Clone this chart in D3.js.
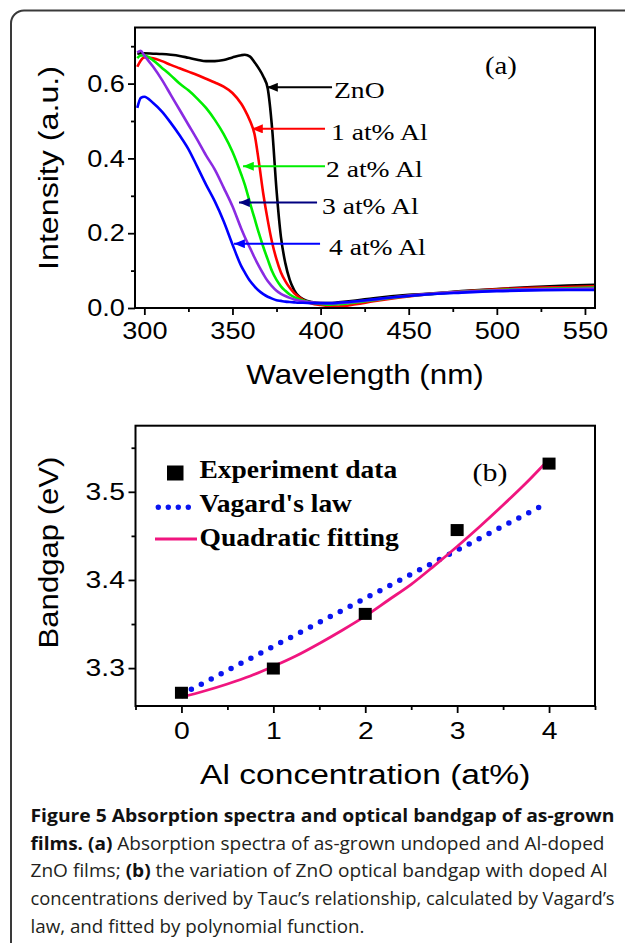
<!DOCTYPE html>
<html><head><meta charset="utf-8">
<script src="https://cdn.jsdelivr.net/npm/d3@7/dist/d3.min.js"></script>
<style>body{margin:0;background:#fff}svg{display:block}</style>
</head><body>
<svg id="c" width="625" height="943"></svg>
<script>
// ---------- DATA: panel (a) absorption spectra ----------
const wavelengths = [296,298,300,305,310,315,320,325,330,335,340,345,350,355,357,360,362.5,365,367.5,370,372.5,375,377.5,380,382.5,385,387.5,390,395,400,405,410,420,430,440,450,460,480,500,520,540,556];
const absZnO = [0.680,0.681,0.681,0.680,0.679,0.677,0.674,0.669,0.664,0.660,0.660,0.663,0.670,0.676,0.677,0.672,0.657,0.640,0.619,0.587,0.480,0.315,0.190,0.120,0.075,0.048,0.032,0.024,0.016,0.013,0.013,0.015,0.020,0.026,0.031,0.035,0.038,0.045,0.051,0.056,0.060,0.062];
const absAl1 = [0.645,0.662,0.670,0.668,0.660,0.650,0.641,0.632,0.623,0.613,0.603,0.592,0.575,0.546,0.530,0.500,0.465,0.390,0.305,0.235,0.175,0.130,0.095,0.072,0.054,0.040,0.030,0.022,0.012,0.008,0.005,0.004,0.010,0.018,0.025,0.031,0.036,0.044,0.050,0.054,0.056,0.058];
const absAl2 = [0.668,0.675,0.675,0.662,0.642,0.622,0.600,0.582,0.560,0.535,0.503,0.465,0.418,0.357,0.330,0.280,0.240,0.200,0.163,0.130,0.098,0.075,0.058,0.046,0.036,0.029,0.024,0.020,0.014,0.011,0.009,0.010,0.015,0.021,0.027,0.032,0.036,0.043,0.048,0.051,0.053,0.055];
const absAl3 = [0.683,0.688,0.675,0.645,0.610,0.570,0.530,0.490,0.450,0.408,0.370,0.322,0.272,0.212,0.190,0.160,0.135,0.112,0.091,0.072,0.058,0.046,0.038,0.032,0.027,0.023,0.020,0.018,0.015,0.013,0.012,0.013,0.017,0.022,0.028,0.033,0.037,0.043,0.047,0.050,0.051,0.052];
const absAl4 = [0.535,0.562,0.565,0.548,0.525,0.495,0.462,0.425,0.378,0.330,0.285,0.232,0.170,0.112,0.095,0.072,0.058,0.046,0.037,0.030,0.025,0.021,0.019,0.017,0.016,0.015,0.014,0.014,0.013,0.013,0.013,0.014,0.018,0.023,0.028,0.032,0.036,0.041,0.045,0.047,0.048,0.048];
const seriesNames = ["ZnO","1 at% Al","2 at% Al","3 at% Al","4 at% Al"];
const xTicksA = [300,350,400,450,500,550];
const xMinorA = [325,375,425,475,525];
const yTicksA = [0.0,0.2,0.4,0.6];
const yMinorA = [0.1,0.3,0.5,0.7];

// ---------- DATA: panel (b) bandgap ----------
const alConc = [0,1,2,3,4];
const bandgapExp = [3.272,3.2995,3.3615,3.4566,3.532];
const vegardX = [0,3.92];
const vegardY = [3.270,3.484];
const fitX = [0,0.25,0.5,0.75,1,1.25,1.5,1.75,2,2.25,2.5,2.75,3,3.25,3.5,3.75,4];
const fitY = [3.267,3.274,3.282,3.291,3.302,3.314,3.328,3.343,3.359,3.377,3.395,3.416,3.438,3.461,3.485,3.510,3.537];
const legendB = ["Experiment data","Vagard's law","Quadratic fitting"];
const xTicksB = [0,1,2,3,4];
const xMinorB = [-0.5,0.5,1.5,2.5,3.5,4.5];
const yTicksB = [3.3,3.4,3.5];
const yMinorB = [3.35,3.45,3.55];

// ---------- caption ----------
const captionLines = [
  [["Figure 5 Absorption spectra and optical bandgap of as-grown", true]],
  [["films. ", true],["(a)", true],[" Absorption spectra of as-grown undoped and Al-doped", false]],
  [["ZnO films; ", false],["(b)", true],[" the variation of ZnO optical bandgap with doped Al", false]],
  [["concentrations derived by Tauc\u2019s relationship, calculated by Vagard\u2019s", false]],
  [["law, and fitted by polynomial function.", false]]
];

// ================= drawing =================
const svg = d3.select("#c");
const SANS = "'Liberation Sans', Arial, sans-serif";
const SERIF = "'Liberation Serif', 'Times New Roman', serif";
const SX = 1.13;   // horizontal stretch of the original figure text

// outer rounded border
svg.append("rect").attr("x",11).attr("y",10.5).attr("width",800).attr("height",1000)
  .attr("rx",13).attr("fill","none").attr("stroke","#3a3a3a").attr("stroke-width",2);

function stext(g, x, y, txt, o) {
  o = o || {};
  return g.append("text")
    .attr("transform", `translate(${x},${y})` + (o.rotate ? ` rotate(${o.rotate})` : "") + ` scale(${o.sx || 1},1)`)
    .attr("font-family", o.family || SANS)
    .attr("font-size", o.size || 24)
    .attr("font-weight", o.weight || "normal")
    .attr("text-anchor", o.anchor || "start")
    .attr("fill", o.fill || "#000")
    .text(txt);
}

function drawAxes(g, x, y, box, xt, xm, yt, ym, xfmt, yfmt, xpad, sxTicks) {
  const gx = g.append("g").attr("transform", `translate(0,${box.bottom})`)
    .call(d3.axisBottom(x).tickValues(xt).tickSize(7).tickSizeOuter(0).tickPadding(xpad).tickFormat(xfmt));
  const gxm = g.append("g").attr("transform", `translate(0,${box.bottom})`)
    .call(d3.axisBottom(x).tickValues(xm).tickSize(4).tickSizeOuter(0).tickFormat(""));
  const gy = g.append("g").attr("transform", `translate(${box.left},0)`)
    .call(d3.axisLeft(y).tickValues(yt).tickSize(7).tickSizeOuter(0).tickPadding(2).tickFormat(yfmt));
  const gym = g.append("g").attr("transform", `translate(${box.left},0)`)
    .call(d3.axisLeft(y).tickValues(ym).tickSize(4).tickSizeOuter(0).tickFormat(""));
  [gx,gxm,gy,gym].forEach(a => {
    a.select(".domain").remove();
    a.selectAll("line").attr("stroke","#000").attr("stroke-width",1.8);
    a.attr("font-family", SANS).attr("font-size", 24);
    a.selectAll("text").attr("fill","#000").attr("transform", `scale(${sxTicks},1)`);
  });
  g.append("rect").attr("x",box.left).attr("y",box.top)
    .attr("width",box.right-box.left).attr("height",box.bottom-box.top)
    .attr("fill","none").attr("stroke","#000").attr("stroke-width",2);
}

// ---------- panel (a) ----------
const A = {left:135, right:595, top:27.5, bottom:308};
const xA = d3.scaleLinear().domain([294.7,555.7]).range([A.left,A.right]);
const yA = d3.scaleLinear().domain([0,0.75]).range([A.bottom,A.top]);
const gA = svg.append("g");
svg.append("clipPath").attr("id","clipA").append("rect")
  .attr("x",A.left).attr("y",A.top).attr("width",A.right-A.left).attr("height",A.bottom-A.top);

const seriesA = [absZnO, absAl1, absAl2, absAl3, absAl4];
const curveColors = ["#000000","#ff0000","#00ee00","#8a2be2","#0000ff"];
const arrowColors = ["#000000","#ff0000","#00ee00","#000080","#0000ff"];
const lineA = d3.line().x((d,i)=>xA(wavelengths[i])).y(d=>yA(d)).curve(d3.curveMonotoneX);
gA.append("g").attr("clip-path","url(#clipA)").selectAll("path").data(seriesA).join("path")
  .attr("d", lineA).attr("fill","none").attr("stroke",(d,i)=>curveColors[i])
  .attr("stroke-width",2.6).attr("stroke-linejoin","round");

drawAxes(gA, xA, yA, A, xTicksA, xMinorA, yTicksA, yMinorA, d3.format("d"), d3.format(".1f"), 7, SX);

// arrows (tip in data coords, tail wavelength) + labels
const arrowSpec = [
  {tip:[369.6,0.590], tail:406.5, lx:334},
  {tip:[361.1,0.479], tail:402.5, lx:331},
  {tip:[356.0,0.379], tail:402.5, lx:326},
  {tip:[353.7,0.282], tail:398.0, lx:322},
  {tip:[350.9,0.172], tail:399.7, lx:329}
];
const defs = svg.append("defs");
arrowColors.forEach((c,i)=>{
  defs.append("marker").attr("id","ah"+i).attr("viewBox","0 0 12 10").attr("refX",12).attr("refY",5)
    .attr("markerUnits","userSpaceOnUse").attr("markerWidth",12).attr("markerHeight",9).attr("orient","auto")
    .append("path").attr("d","M0,0 L12,5 L0,10 Z").attr("fill",c);
});
arrowSpec.forEach((a,i)=>{
  const ty = yA(a.tip[1]);
  gA.append("line").attr("x1",xA(a.tail)).attr("y1",ty).attr("x2",xA(a.tip[0])).attr("y2",ty)
    .attr("stroke",arrowColors[i]).attr("stroke-width",2).attr("marker-end",`url(#ah${i})`);
  stext(gA, a.lx, ty+11, seriesNames[i], {family:SERIF, size:24, sx:1.15});
});
stext(gA, 485, 74, "(a)", {family:SERIF, size:25, sx:1.15});
stext(gA, (A.left+A.right)/2, 384, "Wavelength (nm)", {size:28, sx:1.12, anchor:"middle"});
stext(gA, 58, 168, "Intensity (a.u.)", {size:28, sx:1.15, anchor:"middle", rotate:-90});

// ---------- panel (b) ----------
const B = {left:135.5, right:595, top:425.7, bottom:706};
const xB = d3.scaleLinear().domain([-0.5,4.5]).range([B.left,B.right]);
const yB = d3.scaleLinear().domain([3.257,3.575]).range([B.bottom,B.top]);
const gB = svg.append("g");
const PINK = "#f0157f";
drawAxes(gB, xB, yB, B, xTicksB, xMinorB, yTicksB, yMinorB, d3.format("d"), d3.format(".1f"), 9, 1.18);

// Vegard's law (dotted)
gB.append("path").datum(vegardX.map((v,i)=>[v,vegardY[i]]))
  .attr("d", d3.line().x(d=>xB(d[0])).y(d=>yB(d[1])))
  .attr("fill","none").attr("stroke","#0a14f0").attr("stroke-width",5.5)
  .attr("stroke-linecap","round").attr("stroke-dasharray","0 11.2");
// quadratic fit
gB.append("path").datum(fitX.map((v,i)=>[v,fitY[i]]))
  .attr("d", d3.line().x(d=>xB(d[0])).y(d=>yB(d[1])).curve(d3.curveCatmullRom))
  .attr("fill","none").attr("stroke",PINK).attr("stroke-width",2.8);
// experiment squares
gB.selectAll("rect.pt").data(alConc).join("rect").attr("class","pt")
  .attr("x",d=>xB(d)-6.5).attr("y",(d,i)=>yB(bandgapExp[i])-6).attr("width",13).attr("height",12).attr("fill","#000");

// legend (b)
gB.append("rect").attr("x",167).attr("y",465.5).attr("width",16.5).attr("height",15).attr("fill","#000");
gB.append("line").attr("x1",158.3).attr("x2",190).attr("y1",507.3).attr("y2",507.3)
  .attr("stroke","#0a14f0").attr("stroke-width",5.5).attr("stroke-linecap","round").attr("stroke-dasharray","0 10");
gB.append("line").attr("x1",155).attr("x2",197).attr("y1",539).attr("y2",539).attr("stroke",PINK).attr("stroke-width",3);
[478.3, 511.7, 546].forEach((by,i)=>{
  stext(gB, 199.5, by, legendB[i], {family:SERIF, weight:"bold", size:25, sx:1.1});
});
stext(gB, 472.5, 481, "(b)", {family:SERIF, size:26, sx:1.15});
stext(gB, (B.left+B.right)/2, 784, "Al concentration (at%)", {size:28, sx:1.2, anchor:"middle"});
stext(gB, 58, 552.5, "Bandgap (eV)", {size:28, sx:1.11, anchor:"middle", rotate:-90});

// ---------- caption ----------
const gC = svg.append("g");
const capBase = [822, 849.7, 877.4, 905.1, 932.8];
const capWidth = [584, 574, 577, 584, 334];
const capTexts = captionLines.map((parts,li)=>{
  const t = gC.append("text").attr("x",30.5).attr("y",capBase[li])
    .attr("font-family","'Open Sans', 'Noto Sans', sans-serif").attr("font-size",18).attr("fill","#231f20");
  parts.forEach(p=>{
    t.append("tspan").attr("font-weight", p[1] ? "bold" : "normal").attr("fill", p[1] ? "#111" : "#231f20").text(p[0]);
  });
  return t;
});
// size the caption so that the 4th line spans the column width as in the figure
const w4 = capTexts[3].node().getComputedTextLength();
const fs = 18 * 583 / w4;
capTexts.forEach((t,i)=>t.attr("font-size", fs).attr("textLength", capWidth[i]).attr("lengthAdjust","spacingAndGlyphs"));
</script>
</body></html>
